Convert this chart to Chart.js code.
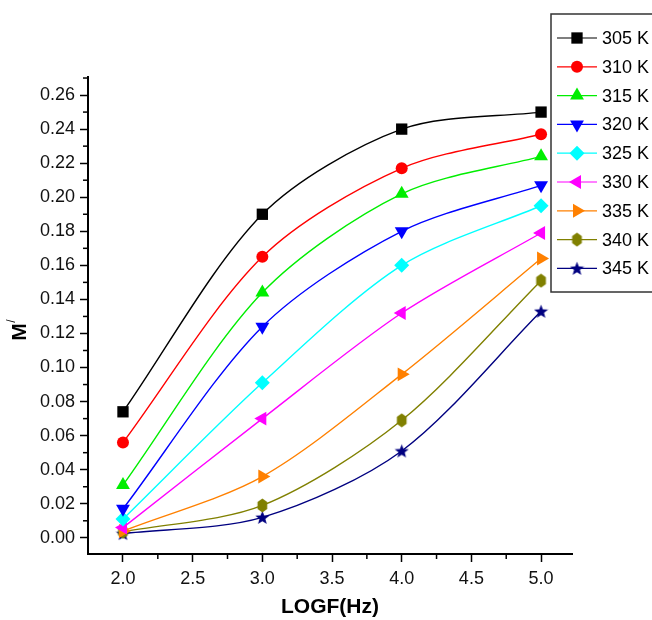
<!DOCTYPE html>
<html>
<head>
<meta charset="utf-8">
<script src="https://cdn.jsdelivr.net/npm/chart.js@4.4.0/dist/chart.umd.min.js"></script>
<style>
  body { margin: 0; background: #fff; }
  #wrap { width: 652px; height: 620px; }
</style>
</head>
<body>
<div id="wrap"><canvas id="chart"></canvas></div>
<script>
// data
const logF = [2.0, 3.0, 4.0, 5.0];
const temps = ['305 K', '310 K', '315 K', '320 K', '325 K', '330 K', '335 K', '340 K', '345 K'];
const m305 = [0.074, 0.190, 0.240, 0.250];
const m310 = [0.056, 0.165, 0.217, 0.237];
const m315 = [0.031, 0.144, 0.202, 0.224];
const m320 = [0.017, 0.124, 0.180, 0.207];
const m325 = [0.011, 0.091, 0.160, 0.195];
const m330 = [0.006, 0.070, 0.132, 0.179];
const m335 = [0.004, 0.036, 0.096, 0.164];
const m340 = [0.0035, 0.019, 0.069, 0.151];
const m345 = [0.0025, 0.012, 0.051, 0.133];
const xTicks = [2.0, 2.5, 3.0, 3.5, 4.0, 4.5, 5.0];
const yTicks = [0, 0.02, 0.04, 0.06, 0.08, 0.10, 0.12, 0.14, 0.16, 0.18, 0.20, 0.22, 0.24, 0.26];

const series = [m305, m310, m315, m320, m325, m330, m335, m340, m345];
const colors = ['#000000', '#ff0000', '#00ee00', '#0000ff', '#00ffff', '#ff00ff', '#ff8000', '#808000', '#000080'];

// custom marker shapes
function shapeCanvas(color, kind) {
  const c = document.createElement('canvas');
  c.width = 15; c.height = 15;
  const g = c.getContext('2d');
  g.fillStyle = color;
  g.beginPath();
  if (kind === 'hex') {
    for (let i = 0; i < 6; i++) {
      const a = Math.PI / 2 + i * Math.PI / 3;
      const px = 7.5 + 5.6 * Math.cos(a), py = 7.5 - 7 * Math.sin(a);
      i ? g.lineTo(px, py) : g.moveTo(px, py);
    }
  } else {
    for (let i = 0; i < 10; i++) {
      const r = i % 2 ? 3.1 : 7.4;
      const a = -Math.PI / 2 + i * Math.PI / 5;
      const px = 7.5 + r * Math.cos(a), py = 8.1 + r * Math.sin(a);
      i ? g.lineTo(px, py) : g.moveTo(px, py);
    }
  }
  g.closePath();
  g.fill();
  return c;
}

const markers = [
  { style: 'rect', rot: 0, r: 8 },
  { style: 'circle', rot: 0, r: 6 },
  { style: 'triangle', rot: 0, r: 8 },
  { style: 'triangle', rot: 180, r: 8 },
  { style: 'rectRot', rot: 0, r: 7.5 },
  { style: 'triangle', rot: -90, r: 8 },
  { style: 'triangle', rot: 90, r: 8 },
  { style: shapeCanvas('#808000', 'hex'), rot: 0, r: 7 },
  { style: shapeCanvas('#000080', 'star'), rot: 0, r: 7 }
];

const datasets = series.map((vals, i) => ({
  label: temps[i],
  data: logF.map((x, j) => ({ x: x, y: vals[j] })),
  borderColor: colors[i],
  backgroundColor: colors[i],
  borderWidth: 1.4,
  pointStyle: markers[i].style,
  pointRotation: markers[i].rot,
  pointRadius: markers[i].r,
  pointBorderWidth: 0,
  tension: 0.3,
  clip: false
}));

const fontFam = '"Liberation Sans", Arial, sans-serif';

const extras = {
  id: 'extras',
  afterDraw(chart) {
    const ctx = chart.ctx;
    const xs = chart.scales.x, ys = chart.scales.y;
    const area = chart.chartArea;
    ctx.save();
    ctx.strokeStyle = '#000';
    ctx.lineWidth = 1.5;
    // minor ticks
    for (let i = 0; i < xTicks.length - 1; i++) {
      const px = xs.getPixelForValue((xTicks[i] + xTicks[i + 1]) / 2);
      ctx.beginPath(); ctx.moveTo(px, area.bottom); ctx.lineTo(px, area.bottom + 5); ctx.stroke();
    }
    for (let k = -1; k <= 27; k += 2) {
      const py = ys.getPixelForValue(k / 100);
      if (py < area.top - 1 || py > area.bottom - 2) continue;
      ctx.beginPath(); ctx.moveTo(area.left, py); ctx.lineTo(area.left - 5, py); ctx.stroke();
    }
    // y title
    ctx.fillStyle = '#000';
    ctx.translate(20, 332);
    ctx.rotate(-Math.PI / 2);
    ctx.font = 'bold 21px ' + fontFam;
    ctx.textAlign = 'center';
    ctx.textBaseline = 'middle';
    ctx.fillText('M', 0, 0);
    ctx.font = '12px ' + fontFam;
    ctx.fillText('/', 11, -8);
    ctx.restore();

    // legend
    ctx.save();
    ctx.fillStyle = '#fff';
    ctx.fillRect(551, 14, 101, 278);
    ctx.strokeStyle = '#333';
    ctx.lineWidth = 1.5;
    ctx.strokeRect(551, 14, 110, 278);
    ctx.font = '18px ' + fontFam;
    ctx.textBaseline = 'middle';
    chart.data.datasets.forEach((ds, i) => {
      const y = 38 + i * 28.8;
      ctx.strokeStyle = ds.borderColor;
      ctx.lineWidth = 1.2;
      ctx.beginPath(); ctx.moveTo(557, y); ctx.lineTo(597, y); ctx.stroke();
      ctx.fillStyle = ds.backgroundColor;
      Chart.helpers.drawPoint(ctx, {
        pointStyle: ds.pointStyle, rotation: ds.pointRotation,
        radius: ds.pointRadius, borderWidth: 0
      }, 577, y);
      ctx.fillStyle = '#000';
      ctx.fillText(ds.label, 602, y + 1);
    });
    ctx.restore();
  }
};

const tickFont = { family: fontFam, size: 18 };

new Chart(document.getElementById('chart'), {
  type: 'line',
  data: { datasets: datasets },
  options: {
    responsive: true,
    maintainAspectRatio: false,
    animation: false,
    events: [],
    layout: { padding: { left: 0, top: 77, right: 80, bottom: 0 } },
    plugins: { legend: { display: false }, tooltip: { enabled: false } },
    scales: {
      x: {
        type: 'linear',
        min: 1.749,
        max: 5.222,
        afterBuildTicks: s => { s.ticks = xTicks.map(v => ({ value: v })); },
        afterFit: s => { s.height = 66; },
        ticks: { font: tickFont, color: '#111', padding: 6, maxRotation: 0,
                 callback: v => Number(v).toFixed(1) },
        grid: { drawOnChartArea: false, tickLength: 8, tickWidth: 1.5, color: '#000' },
        border: { color: '#000', width: 2 },
        title: { display: true, text: 'LOGF(Hz)', color: '#000', padding: { top: 4, bottom: 0 },
                 font: { family: fontFam, size: 21, weight: 'bold' } }
      },
      y: {
        type: 'linear',
        min: -0.0095,
        max: 0.2706,
        afterBuildTicks: s => { s.ticks = yTicks.map(v => ({ value: v })); },
        afterFit: s => { s.width = 88; },
        ticks: { font: tickFont, color: '#111', padding: 5,
                 callback: v => Number(v).toFixed(2) },
        grid: { drawOnChartArea: false, tickLength: 8, tickWidth: 1.5, color: '#000' },
        border: { color: '#000', width: 2 }
      }
    }
  },
  plugins: [extras]
});
</script>
</body>
</html>
